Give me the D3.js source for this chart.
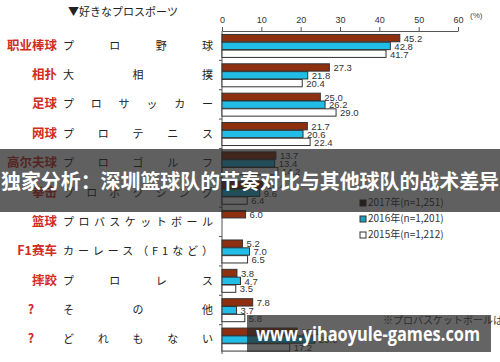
<!DOCTYPE html>
<html>
<head>
<meta charset="utf-8">
<script src="https://cdn.jsdelivr.net/npm/d3@7"></script>
<style>
  body { margin: 0; background: #fff; }
  svg { display: block; font-family: "Liberation Sans", Arial, sans-serif; }
</style>
</head>
<body>
<div id="target"></div>
<script>
const cnLabels = ["职业棒球", "相扑", "足球", "网球", "高尔夫球", "拳击", "篮球", "F1赛车", "摔跤", "?", "?"];
const jpLabels = ["プロ野球", "大相撲", "プロサッカー", "プロテニス", "プロゴルフ", "プロボクシング",
  "プロバスケットボール", "カーレース（F1など）", "プロレス", "その他", "どれもない"];
const years = ["2017年(n=1,251)", "2016年(n=1,201)", "2015年(n=1,212)"];
const v2017 = [45.2, 27.3, 25.0, 21.7, 13.7, 10.4, 6.0, 5.2, 3.8, 7.8, 19.1];
const v2016 = [42.8, 21.8, 26.2, 20.6, 13.4, 9.6, null, 7.0, 4.7, 3.7, 23.6];
const v2015 = [41.7, 20.4, 29.0, 22.4, 14.2, 6.4, null, 6.5, 3.5, 5.8, 17.2];
const xTicks = [0, 10, 20, 30, 40, 50, 60];

function chart() {
  const width = 500, height = 362;
  const fills = ["#8e2f10", "#22bde6", "#ffffff"];
  const series = [v2017, v2016, v2015];

  let svg = d3.select("#target").append("svg")
    .attr("width", width)
    .attr("height", height);

  let x = d3.scaleLinear().domain([0, 60]).range([222, 458]);
  let y = d3.scaleBand().domain(d3.range(cnLabels.length)).range([31, 354])
    .paddingInner(0.2).paddingOuter(0.1);
  let ySub = d3.scaleBand().domain([0, 1, 2]).range([0, y.bandwidth()]);

  // title
  svg.append("text")
    .attr("x", 123).attr("y", 16)
    .attr("text-anchor", "middle")
    .style("font-family", "'Noto Sans CJK JP', sans-serif")
    .style("font-size", "11px")
    .attr("fill", "#222")
    .text("▼好きなプロスポーツ");

  // top axis
  let xAxis = d3.axisTop(x).tickValues(xTicks).tickSize(4).tickSizeOuter(0);
  let gx = svg.append("g")
    .attr("transform", "translate(0,31)")
    .call(xAxis);
  gx.selectAll("text").style("font-size", "9px").attr("fill", "#333").attr("dy", "-1");
  gx.selectAll("line, path").attr("stroke", "#555");
  svg.append("text")
    .attr("x", 470).attr("y", 18)
    .style("font-size", "8px").attr("fill", "#444")
    .text("(%)");

  // left axis line with ticks at band boundaries
  svg.append("line")
    .attr("x1", 222).attr("x2", 222).attr("y1", 31).attr("y2", 354)
    .attr("stroke", "#555");
  svg.selectAll(".ytick")
    .data(d3.range(1, cnLabels.length))
    .enter().append("line")
    .attr("x1", 219).attr("x2", 222)
    .attr("y1", (d) => y.range()[0] + d * y.step())
    .attr("y2", (d) => y.range()[0] + d * y.step())
    .attr("stroke", "#555");

  // category labels
  svg.selectAll(".cn")
    .data(cnLabels)
    .enter().append("text")
    .attr("x", (d) => d === "?" ? 31 : 57)
    .attr("y", (d, i) => y(i) + y.bandwidth() / 2 + 4)
    .attr("text-anchor", (d) => d === "?" ? "middle" : "end")
    .style("font-family", "'Noto Sans CJK SC', sans-serif")
    .style("font-weight", "bold")
    .style("font-size", "12.5px")
    .attr("fill", "#d42a22")
    .text((d) => d);

  svg.selectAll(".jp")
    .data(jpLabels)
    .enter().append("text")
    .attr("x", 63)
    .attr("y", (d, i) => y(i) + y.bandwidth() / 2 + 4)
    .attr("textLength", 150)
    .attr("lengthAdjust", "spacing")
    .style("font-family", "'Noto Sans CJK JP', sans-serif")
    .style("font-size", "11px")
    .attr("fill", "#222")
    .text((d) => d);

  // bars
  series.forEach((vals, s) => {
    let g = svg.append("g");
    let rows = vals.map((v, i) => ({ v: v, i: i })).filter((d) => d.v !== null);
    g.selectAll("rect")
      .data(rows)
      .enter().append("rect")
      .attr("x", x(0))
      .attr("y", (d) => y(d.i) + ySub(s) + 0.5)
      .attr("width", (d) => x(d.v) - x(0))
      .attr("height", ySub.bandwidth() - 0.5)
      .attr("fill", fills[s])
      .attr("stroke", "#333")
      .attr("stroke-width", 1);
    g.selectAll("text")
      .data(rows)
      .enter().append("text")
      .attr("x", (d) => x(d.v) + 4)
      .attr("y", (d) => y(d.i) + ySub(s) + ySub.bandwidth() / 2 + 4)
      .style("font-size", "9.5px")
      .attr("fill", "#333")
      .text((d) => d.v.toFixed(1));
  });

  // legend
  let legend = svg.selectAll(".legend")
    .data(years)
    .enter().append("g")
    .attr("transform", (d, i) => `translate(360,${206 + i * 16})`);
  legend.append("rect")
    .attr("x", 0).attr("y", -6).attr("width", 6).attr("height", 6)
    .attr("fill", (d, i) => ["#3a1a10", "#1e9fc0", "#fff"][i])
    .attr("stroke", "#333");
  legend.append("text")
    .attr("x", 8).attr("y", 0)
    .style("font-family", "'Noto Sans CJK JP', sans-serif")
    .style("font-size", "10px")
    .attr("fill", "#333")
    .text((d) => d);

  svg.append("text")
    .attr("x", 383).attr("y", 324)
    .style("font-family", "'Noto Sans CJK JP', sans-serif")
    .style("font-size", "10px")
    .attr("fill", "#333")
    .text("※プロバスケットボールは");

  // overlay banners
  svg.append("rect")
    .attr("x", 0).attr("y", 149).attr("width", width).attr("height", 63)
    .attr("fill", "rgba(35,35,35,0.72)");
  svg.append("text")
    .attr("x", 1).attr("y", 189)
    .attr("textLength", 498)
    .attr("lengthAdjust", "spacingAndGlyphs")
    .style("font-family", "'Noto Sans CJK SC', sans-serif")
    .style("font-weight", "bold")
    .style("font-size", "20px")
    .attr("fill", "#fff")
    .text("独家分析：深圳篮球队的节奏对比与其他球队的战术差异");

  svg.append("rect")
    .attr("x", 247).attr("y", 315).attr("width", 244).attr("height", 37)
    .attr("fill", "rgba(40,40,40,0.72)");
  svg.append("text")
    .attr("x", 256).attr("y", 341)
    .attr("textLength", 224)
    .attr("lengthAdjust", "spacingAndGlyphs")
    .style("font-family", "'Open Sans', sans-serif")
    .style("font-weight", "bold")
    .style("font-size", "20px")
    .attr("fill", "#fff")
    .text("www.yihaoyule-games.com");
}
chart();
</script>
</body>
</html>
